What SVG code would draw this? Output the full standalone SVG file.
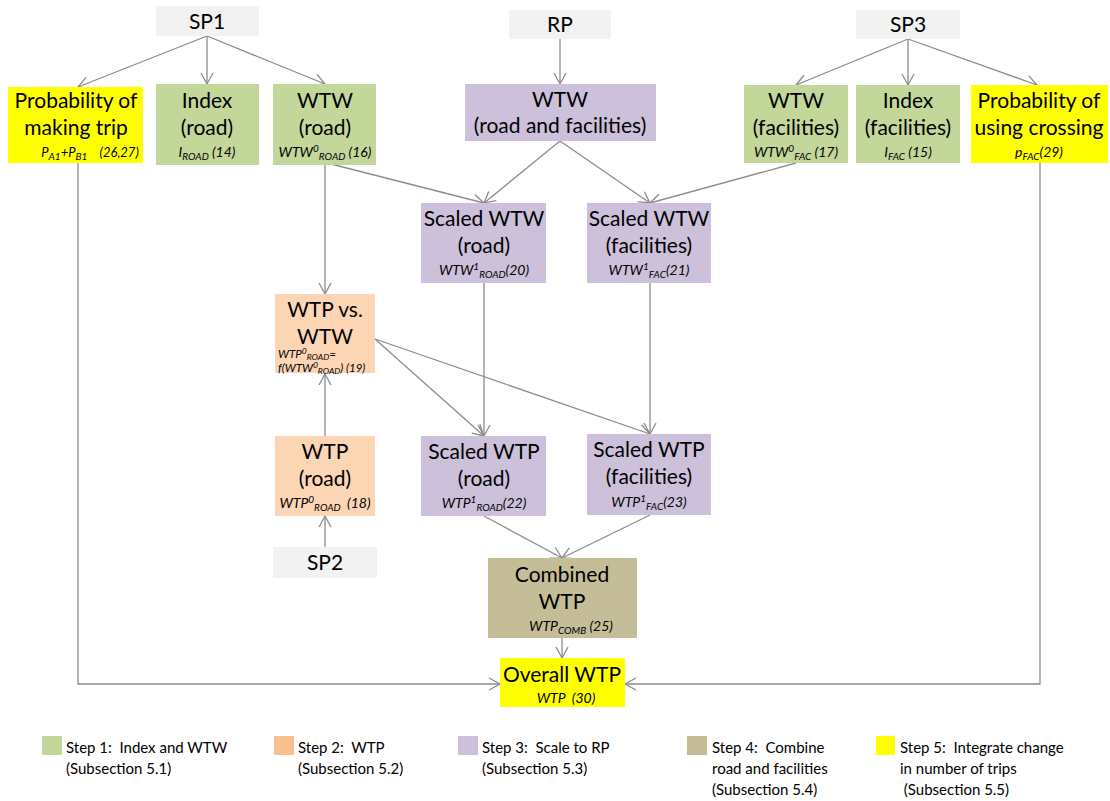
<svg xmlns="http://www.w3.org/2000/svg" width="1110" height="801" viewBox="0 0 1110 801">
<style>
text{font-family:Lato,"Liberation Sans",sans-serif;fill:#000}
.t{font-size:21px;text-anchor:middle}
.s{font-size:14px;font-style:italic;text-anchor:middle;white-space:pre}
.ss{font-size:11.5px;font-style:italic}
.sm{font-size:10px}
.sm2{font-size:8.5px}
.lg{font-size:15px;white-space:pre}
.gray{fill:#f2f2f2}
.green{fill:#c4d79b}
.orange{fill:#fcd5b4}
.purple{fill:#ccc0da}
.tan{fill:#c4bd97}
.yellow{fill:#ffff00}
.c{fill:none;stroke:#8c8c8c;stroke-width:1.3;marker-end:url(#a)}
</style>
<defs>
<marker id="a" markerUnits="userSpaceOnUse" markerWidth="14" markerHeight="14" viewBox="0 0 14 14" refX="12" refY="7" orient="auto">
<path d="M1,1 L12,7 L1,13" fill="none" stroke="#8c8c8c" stroke-width="1.3"/>
</marker>
</defs>
<rect width="1110" height="801" fill="#fff"/>
<g id="connectors">
<path class="c" d="M207,36 L78,87"/>
<path class="c" d="M207,36 L207,84"/>
<path class="c" d="M207,36 L325,84"/>
<path class="c" d="M560,39 L560,84"/>
<path class="c" d="M908,39 L796,85"/>
<path class="c" d="M908,39 L908,85"/>
<path class="c" d="M908,39 L1037,85"/>
<path class="c" d="M327,163 L484,203"/>
<path class="c" d="M325,165 L325,294"/>
<path class="c" d="M560,141 L484,203"/>
<path class="c" d="M560,141 L650,203"/>
<path class="c" d="M796,163 L650,203"/>
<path class="c" d="M484,283 L484,436"/>
<path class="c" d="M650,283 L650,434"/>
<path class="c" d="M375,339 L484,436"/>
<path class="c" d="M375,339 L650,434"/>
<path class="c" d="M325,547 L325,516"/>
<path class="c" d="M325,436 L325,374"/>
<path class="c" d="M484,516 L562,558"/>
<path class="c" d="M650,515 L562,558"/>
<path class="c" d="M562,638 L562,658"/>
<path class="c" d="M78,163 L78,684 L500,684"/>
<path class="c" d="M1040,163 L1040,684 L625,684"/>
</g>
<g id="sp1"><rect class="gray" x="156" y="6" width="103" height="30"/><text class="t" x="207" y="29">SP1</text></g>
<g id="rp"><rect class="gray" x="509" y="10" width="102" height="29"/><text class="t" x="560" y="32">RP</text></g>
<g id="sp3"><rect class="gray" x="856" y="10" width="104" height="29"/><text class="t" x="908" y="32">SP3</text></g>
<g id="sp2"><rect class="gray" x="273" y="547" width="104" height="31"/><text class="t" x="325" y="570">SP2</text></g>
<g id="prob_trip"><rect class="yellow" x="8" y="87" width="135" height="76"/>
<text class="t" x="76" y="108">Probability of</text><text class="t" x="76" y="135">making trip</text>
<text class="s" x="90" y="157" style="font-size:13px">P<tspan class="sm" dy="3">A1</tspan><tspan dy="-3">+P</tspan><tspan class="sm" dy="3">B1</tspan><tspan dy="-3">    (26,27)</tspan></text></g>
<g id="index_road"><rect class="green" x="156" y="84" width="103" height="81"/>
<text class="t" x="207" y="108">Index</text><text class="t" x="207" y="135">(road)</text>
<text class="s" x="207" y="157">I<tspan class="sm" dy="3">ROAD</tspan><tspan dy="-3"> (14)</tspan></text></g>
<g id="wtw_road"><rect class="green" x="273" y="84" width="103" height="81"/>
<text class="t" x="325" y="108">WTW</text><text class="t" x="325" y="135">(road)</text>
<text class="s" x="325" y="157">WTW<tspan class="sm" dy="-5">0</tspan><tspan class="sm" dy="8">ROAD</tspan><tspan dy="-3"> (16)</tspan></text></g>
<g id="wtw_rf"><rect class="purple" x="465" y="84" width="191" height="57"/>
<text class="t" x="560" y="107">WTW</text><text class="t" x="560" y="133">(road and facilities)</text></g>
<g id="wtw_fac"><rect class="green" x="744" y="85" width="104" height="78"/>
<text class="t" x="796" y="108">WTW</text><text class="t" x="796" y="135">(facilities)</text>
<text class="s" x="796" y="157">WTW<tspan class="sm" dy="-5">0</tspan><tspan class="sm" dy="8">FAC</tspan><tspan dy="-3"> (17)</tspan></text></g>
<g id="index_fac"><rect class="green" x="856" y="85" width="104" height="78"/>
<text class="t" x="908" y="108">Index</text><text class="t" x="908" y="135">(facilities)</text>
<text class="s" x="908" y="157">I<tspan class="sm" dy="3">FAC</tspan><tspan dy="-3"> (15)</tspan></text></g>
<g id="prob_cross"><rect class="yellow" x="971" y="85" width="137" height="78"/>
<text class="t" x="1039" y="108">Probability of</text><text class="t" x="1039" y="135">using crossing</text>
<text class="s" x="1039" y="157">p<tspan class="sm" dy="3">FAC</tspan><tspan dy="-3">(29)</tspan></text></g>
<g id="swtw_road"><rect class="purple" x="421" y="203" width="125" height="80"/>
<text class="t" x="484" y="226">Scaled WTW</text><text class="t" x="484" y="253">(road)</text>
<text class="s" x="484" y="275">WTW<tspan class="sm" dy="-5">1</tspan><tspan class="sm" dy="8">ROAD</tspan><tspan dy="-3">(20)</tspan></text></g>
<g id="swtw_fac"><rect class="purple" x="587" y="203" width="124" height="80"/>
<text class="t" x="649" y="226">Scaled WTW</text><text class="t" x="649" y="253">(facilities)</text>
<text class="s" x="649" y="275">WTW<tspan class="sm" dy="-5">1</tspan><tspan class="sm" dy="8">FAC</tspan><tspan dy="-3">(21)</tspan></text></g>
<g id="wtp_vs_wtw"><rect class="orange" x="275" y="294" width="100" height="79"/>
<text class="t" x="325" y="317">WTP vs.</text><text class="t" x="325" y="344">WTW</text>
<text class="ss" x="278" y="358">WTP<tspan class="sm2" dy="-4">0</tspan><tspan class="sm2" dy="6">ROAD</tspan><tspan dy="-2">=</tspan></text>
<text class="ss" x="278" y="372">f(WTW<tspan class="sm2" dy="-4">0</tspan><tspan class="sm2" dy="6">ROAD</tspan><tspan dy="-2">) (19)</tspan></text></g>
<g id="wtp_road"><rect class="orange" x="275" y="436" width="100" height="80"/>
<text class="t" x="325" y="459">WTP</text><text class="t" x="325" y="486">(road)</text>
<text class="s" x="325" y="508">WTP<tspan class="sm" dy="-5">0</tspan><tspan class="sm" dy="8">ROAD</tspan><tspan dy="-3">  (18)</tspan></text></g>
<g id="swtp_road"><rect class="purple" x="421" y="436" width="125" height="80"/>
<text class="t" x="484" y="459">Scaled WTP</text><text class="t" x="484" y="486">(road)</text>
<text class="s" x="484" y="508">WTP<tspan class="sm" dy="-5">1</tspan><tspan class="sm" dy="8">ROAD</tspan><tspan dy="-3">(22)</tspan></text></g>
<g id="swtp_fac"><rect class="purple" x="587" y="434" width="124" height="81"/>
<text class="t" x="649" y="457">Scaled WTP</text><text class="t" x="649" y="484">(facilities)</text>
<text class="s" x="649" y="507">WTP<tspan class="sm" dy="-5">1</tspan><tspan class="sm" dy="8">FAC</tspan><tspan dy="-3">(23)</tspan></text></g>
<g id="combined"><rect class="tan" x="488" y="558" width="149" height="80"/>
<text class="t" x="562" y="582">Combined</text><text class="t" x="562" y="609">WTP</text>
<text class="s" x="571" y="631">WTP<tspan class="sm" dy="3">COMB</tspan><tspan dy="-3"> (25)</tspan></text></g>
<g id="overall"><rect class="yellow" x="500" y="658" width="125" height="49"/>
<text class="t" x="562" y="682">Overall WTP</text>
<text class="s" x="566" y="703">WTP  (30)</text></g>
<g id="legend">
<rect class="green" x="42" y="736" width="20" height="19"/>
<text class="lg" x="66" y="753">Step 1:  Index and WTW</text><text class="lg" x="66" y="774">(Subsection 5.1)</text>
<rect fill="#fabf8f" x="274" y="736" width="20" height="19"/>
<text class="lg" x="298" y="753">Step 2:  WTP</text><text class="lg" x="298" y="774">(Subsection 5.2)</text>
<rect class="purple" x="458" y="736" width="20" height="19"/>
<text class="lg" x="482" y="753">Step 3:  Scale to RP</text><text class="lg" x="482" y="774">(Subsection 5.3)</text>
<rect class="tan" x="687" y="736" width="20" height="19"/>
<text class="lg" x="712" y="753">Step 4:  Combine</text><text class="lg" x="712" y="774">road and facilities</text><text class="lg" x="712" y="795">(Subsection 5.4)</text>
<rect class="yellow" x="876" y="736" width="19" height="19"/>
<text class="lg" x="900" y="753">Step 5:  Integrate change</text><text class="lg" x="900" y="774">in number of trips</text><text class="lg" x="900" y="795"> (Subsection 5.5)</text>
</g>
</svg>
